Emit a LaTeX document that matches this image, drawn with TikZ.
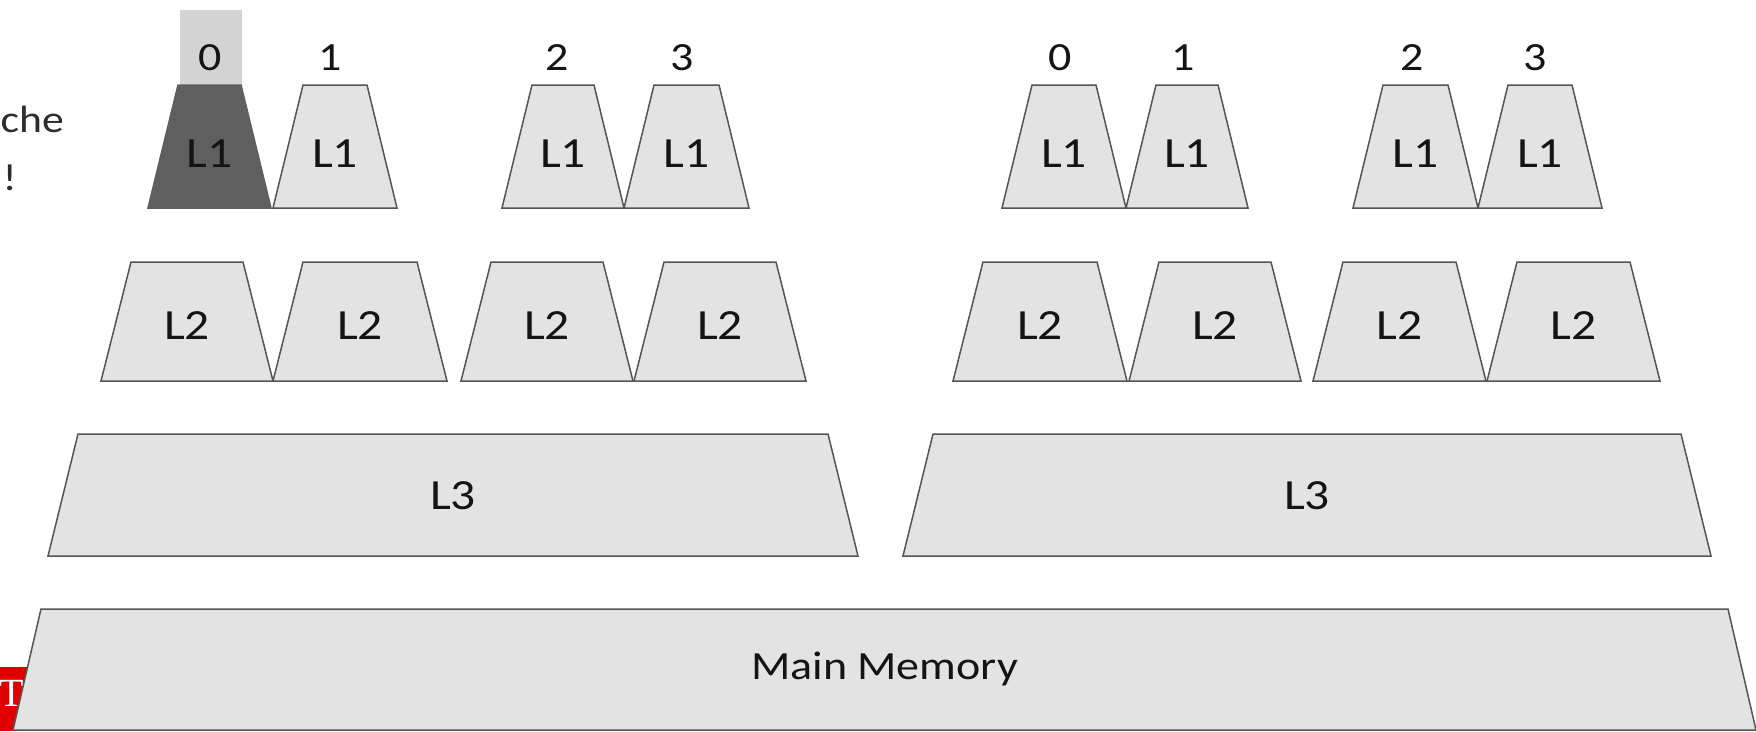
\documentclass[tikz,border=0pt]{standalone}
\usepackage{fontspec}
\setmainfont{Carlito}[FakeStretch=1.15]
\newfontfamily\logofont{Liberation Serif}
\definecolor{trapfill}{HTML}{E3E3E3}
\definecolor{trapline}{HTML}{555555}
\definecolor{darkfill}{HTML}{5F5F5F}
\definecolor{boxgray}{HTML}{D3D3D3}
\definecolor{txt}{HTML}{141414}
\definecolor{logored}{HTML}{E00000}
\tikzset{
  trap/.style={fill=trapfill, draw=trapline, line width=1.5pt, line join=miter},
  darktrap/.style={fill=darkfill, draw=darkfill, line width=1.5pt, line join=miter},
  lab/.style={font=\fontsize{43}{48}\selectfont, text=txt, anchor=base, inner sep=0pt},
  memlab/.style={font=\fontsize{40}{44}\selectfont, text=txt, anchor=base, inner sep=0pt},
  num/.style={font=\fontsize{40}{44}\selectfont, text=txt, anchor=base, inner sep=0pt},
  side/.style={font=\fontsize{38}{42}\selectfont, text=txt!90, anchor=base east, inner sep=0pt},
}
% #1 name, #2 x bottom-left, #3 x bottom-right, #4 y top, #5 y bottom, #6 inset, #7 text, #8 baseline y, #9 label style
\newcommand\trapz[9]{%
  \draw[trap] (#2,#5) -- ({#2+#6},#4) -- ({#3-#6},#4) -- (#3,#5) -- cycle;
  \node[#9] (#1) at ({(#2+#3)/2},#8) {#7};}
\begin{document}
\begin{tikzpicture}[x=1pt,y=-1pt]
\useasboundingbox (0,0) rectangle (1756,731);
\clip (0,0) rectangle (1756,731);

% partial side text
\node[side] (che) at (64,132) {che};
\node[side] (hit) at (17,190) {!};

% logo fragment
\fill[logored] (0,667) rectangle (30,731);
\node[font=\logofont\fontsize{40}{40}\selectfont, text=white, anchor=north, inner sep=0pt] (logo) at (12,680) {T};

% highlighted core 0
\fill[boxgray] (180,10) rectangle (242,85);
\draw[darktrap] (148,208) -- (178,85) -- (241,85) -- (271,208) -- cycle;
\node[lab] (l1a) at (209.5,167) {L1};
\node[num] (n0a) at (210,70) {0};

% L1 row
\trapz{l1b}{273}{397}{85}{208}{30}{L1}{167}{lab}
\trapz{l1c}{502}{624}{85}{208}{30}{L1}{167}{lab}
\trapz{l1d}{624}{749}{85}{208}{30}{L1}{167}{lab}
\trapz{l1e}{1002}{1126}{85}{208}{30}{L1}{167}{lab}
\trapz{l1f}{1126}{1248}{85}{208}{30}{L1}{167}{lab}
\trapz{l1g}{1353}{1478}{85}{208}{30}{L1}{167}{lab}
\trapz{l1h}{1478}{1602}{85}{208}{30}{L1}{167}{lab}

% core numbers
\node[num] (n1a) at (330,70) {1};
\node[num] (n2a) at (557,70) {2};
\node[num] (n3a) at (682,70) {3};
\node[num] (n0b) at (1060,70) {0};
\node[num] (n1b) at (1183,70) {1};
\node[num] (n2b) at (1412,70) {2};
\node[num] (n3b) at (1535,70) {3};

% L2 row
\trapz{l2a}{101}{273}{262}{381}{30}{L2}{339}{lab}
\trapz{l2b}{273}{447}{262}{381}{30}{L2}{339}{lab}
\trapz{l2c}{461}{633}{262}{381}{30}{L2}{339}{lab}
\trapz{l2d}{634}{806}{262}{381}{30}{L2}{339}{lab}
\trapz{l2e}{953}{1127}{262}{381}{30}{L2}{339}{lab}
\trapz{l2f}{1129}{1301}{262}{381}{30}{L2}{339}{lab}
\trapz{l2g}{1313}{1486}{262}{381}{30}{L2}{339}{lab}
\trapz{l2h}{1487}{1660}{262}{381}{30}{L2}{339}{lab}

% L3 row
\trapz{l3a}{48}{858}{434}{556}{30}{L3}{509}{lab}
\trapz{l3b}{903}{1711}{434}{556}{30}{L3}{509}{lab}

% main memory
\trapz{mem}{13}{1756}{609}{730}{28}{Main Memory}{679}{memlab}
\end{tikzpicture}
\end{document}
